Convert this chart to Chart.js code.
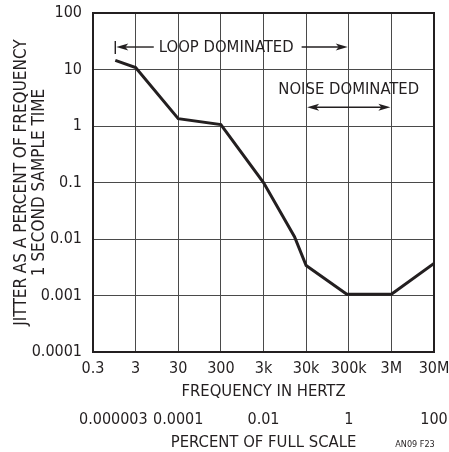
<!DOCTYPE html>
<html>
<head>
<meta charset="utf-8">
<script src="https://cdn.jsdelivr.net/npm/chart.js@4/dist/chart.umd.min.js"></script>
<style>
html,body{margin:0;padding:0;background:#fff;}
#wrap{width:449px;height:452px;}
</style>
</head>
<body>
<div id="wrap"><canvas id="c" width="449" height="452"></canvas></div>
<script>
// ---- data ----
const frequencyHz   = [1, 3, 30, 300, 3000, 16000, 30000, 270000, 3000000, 30000000];
const jitterPercent = [14.5, 10.8, 1.35, 1.06, 0.1, 0.011, 0.0034, 0.00105, 0.00105, 0.0037];

const xTickValues = [0.3, 3, 30, 300, 3000, 30000, 300000, 3000000, 30000000];
const xTickLabels = ['0.3', '3', '30', '300', '3k', '30k', '300k', '3M', '30M'];
const yTickValues = [0.0001, 0.001, 0.01, 0.1, 1, 10, 100];
const yTickLabels = ['0.0001', '0.001', '0.01', '0.1', '1', '10', '100'];
const percentTickValues = [0.000003, 0.0001, 0.01, 1, 100];
const percentTickLabels = ['0.000003', '0.0001', '0.01', '1', '100'];
const fullScaleHz = 30000000; // 100 % of full scale

const loopRangeHz = [1, 300000];
const loopLabelHz = 400;
const loopLevel = 25;
const noiseRangeHz = [30000, 3000000];
const noiseLabelHz = 300000;
const noiseLabelLevel = 4.5;
const noiseArrowLevel = 2.15;

// ---- styling ----
const INK = '#231f20';
const GRID = '#4a4a4a';
const FONT = '"DejaVu Sans Condensed", "Liberation Sans Narrow", sans-serif';
const TICK_FONT = {family: FONT, size: 16, lineHeight: 18 / 16};
const TITLE_FONT = {family: FONT, size: 16.5, lineHeight: 18 / 16.5};
const YTITLE_FONT = {family: FONT, size: 17, lineHeight: 18 / 17};

function drawArrow(ctx, x0, y0, x1, y1) {
  const dir = Math.sign(x1 - x0) || 1;
  const head = 12, half = 3.5;
  ctx.beginPath();
  ctx.moveTo(x0, y0);
  ctx.lineTo(x1 - dir * head * 0.6, y1);
  ctx.stroke();
  ctx.beginPath();
  ctx.moveTo(x1, y1);
  ctx.lineTo(x1 - dir * head, y1 - half);
  ctx.lineTo(x1 - dir * head * 0.75, y1);
  ctx.lineTo(x1 - dir * head, y1 + half);
  ctx.closePath();
  ctx.fill();
}

const decor = {
  id: 'decor',
  afterDatasetsDraw(chart) {
    const {ctx, chartArea: a, scales: {x, y}} = chart;
    ctx.save();
    ctx.strokeStyle = INK;
    ctx.fillStyle = INK;
    ctx.lineWidth = 2;
    ctx.strokeRect(a.left, a.top, a.right - a.left, a.bottom - a.top);

    ctx.font = '16.5px ' + FONT;
    ctx.textAlign = 'center';
    ctx.textBaseline = 'middle';

    // LOOP DOMINATED
    const ly = y.getPixelForValue(loopLevel);
    const lx0 = x.getPixelForValue(loopRangeHz[0]);
    const lx1 = x.getPixelForValue(loopRangeHz[1]);
    const ltx = x.getPixelForValue(loopLabelHz);
    const lt = 'LOOP DOMINATED';
    const lw = ctx.measureText(lt).width;
    ctx.fillText(lt, ltx, ly + 1);
    ctx.lineWidth = 1.4;
    ctx.beginPath();
    ctx.moveTo(lx0, ly - 6);
    ctx.lineTo(lx0, ly + 7);
    ctx.stroke();
    drawArrow(ctx, ltx - lw / 2 - 5, ly, lx0 + 1, ly);
    drawArrow(ctx, ltx + lw / 2 + 8, ly, lx1 - 1, ly);

    // NOISE DOMINATED
    const nt = 'NOISE DOMINATED';
    ctx.fillText(nt, x.getPixelForValue(noiseLabelHz), y.getPixelForValue(noiseLabelLevel) + 1);
    const ny = y.getPixelForValue(noiseArrowLevel);
    const nx0 = x.getPixelForValue(noiseRangeHz[0]);
    const nx1 = x.getPixelForValue(noiseRangeHz[1]);
    const nm = (nx0 + nx1) / 2;
    drawArrow(ctx, nm, ny, nx0 + 1, ny);
    drawArrow(ctx, nm, ny, nx1 - 1, ny);

    // figure id
    ctx.font = '9px ' + FONT;
    ctx.fillText('AN09 F23', 415, 445);
    ctx.restore();
  }
};

new Chart(document.getElementById('c'), {
  type: 'line',
  data: {
    datasets: [{
      data: frequencyHz.map((f, i) => ({x: f, y: jitterPercent[i]})),
      borderColor: INK,
      borderWidth: 3,
      pointRadius: 0,
      tension: 0,
      fill: false
    }]
  },
  options: {
    responsive: false,
    animation: false,
    devicePixelRatio: 1,
    layout: {padding: {left: 0, right: 15, top: 13, bottom: 0}},
    plugins: {legend: {display: false}, tooltip: {enabled: false}},
    scales: {
      x: {
        type: 'logarithmic',
        position: 'bottom',
        weight: 0,
        min: xTickValues[0],
        max: xTickValues[xTickValues.length - 1],
        bounds: 'data',
        afterBuildTicks: s => { s.ticks = xTickValues.map(v => ({value: v})); },
        afterFit: s => { s.height = 52; s.paddingLeft = 0; s.paddingRight = 0; },
        grid: {color: GRID, lineWidth: 1, drawTicks: false},
        border: {display: false},
        ticks: {
          autoSkip: false, maxRotation: 0, padding: 8, color: INK,
          font: TICK_FONT,
          callback: (v, i) => xTickLabels[i]
        },
        title: {
          display: true, text: 'FREQUENCY IN HERTZ', color: INK,
          font: TITLE_FONT,
          padding: {top: 0, bottom: 3}
        }
      },
      x2: {
        type: 'logarithmic',
        position: 'bottom',
        weight: 1,
        min: xTickValues[0],
        max: xTickValues[xTickValues.length - 1],
        bounds: 'data',
        afterBuildTicks: s => { s.ticks = percentTickValues.map(p => ({value: p * fullScaleHz / 100})); },
        afterFit: s => { s.height = 48; s.paddingLeft = 0; s.paddingRight = 0; },
        grid: {display: false, drawTicks: false},
        border: {display: false},
        ticks: {
          autoSkip: false, maxRotation: 0, padding: 7, color: INK,
          font: TICK_FONT,
          callback: (v, i) => percentTickLabels[i]
        },
        title: {
          display: true, text: 'PERCENT OF FULL SCALE', color: INK,
          font: TITLE_FONT,
          padding: {top: 0, bottom: 0}
        }
      },
      y: {
        type: 'logarithmic',
        position: 'left',
        min: yTickValues[0],
        max: yTickValues[yTickValues.length - 1],
        bounds: 'data',
        afterBuildTicks: s => { s.ticks = yTickValues.map(v => ({value: v})); },
        afterFit: s => { s.width = 93; s.paddingTop = 0; s.paddingBottom = 0; },
        grid: {color: GRID, lineWidth: 1, drawTicks: false},
        border: {display: false},
        ticks: {
          autoSkip: false, padding: 11, color: INK,
          font: TICK_FONT,
          callback: (v, i) => yTickLabels[i]
        },
        title: {
          display: true,
          text: ['JITTER AS A PERCENT OF FREQUENCY', '1 SECOND SAMPLE TIME'],
          color: INK,
          font: YTITLE_FONT,
          padding: {top: 13, bottom: 0}
        }
      }
    }
  },
  plugins: [decor]
});
</script>
</body>
</html>
